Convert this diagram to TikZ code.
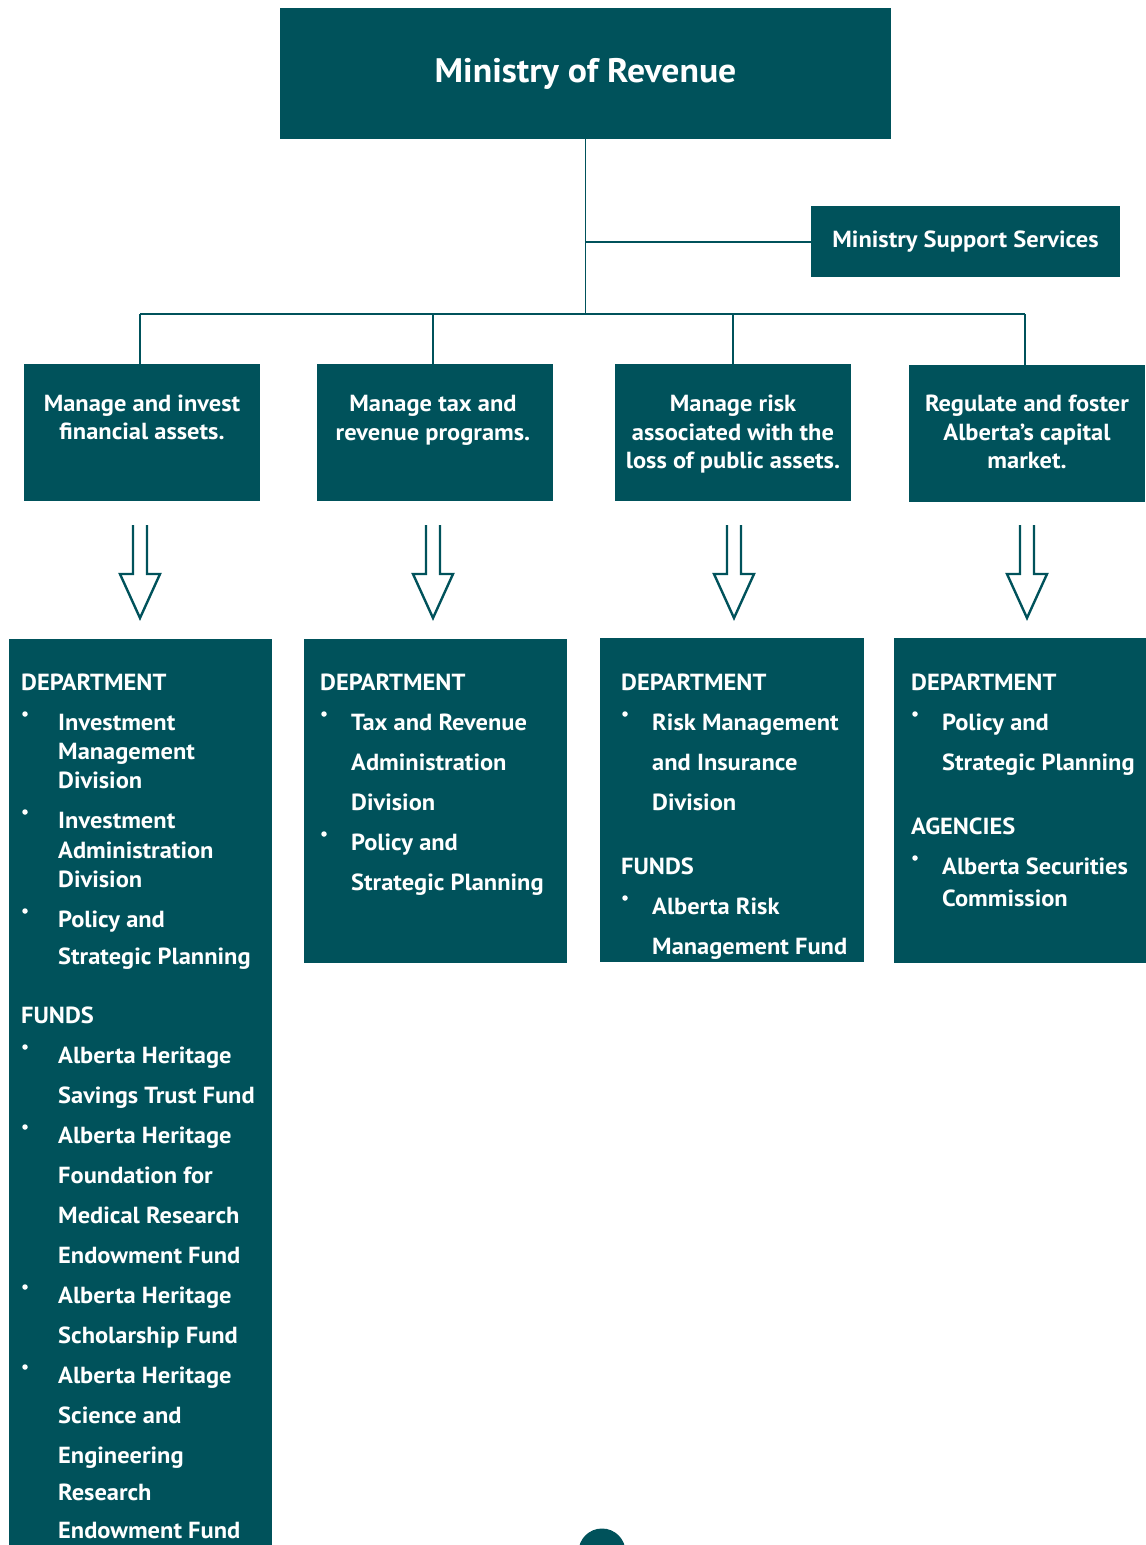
\documentclass[tikz,border=0pt]{standalone}
\usepackage{fontspec}
\setmainfont{PT Sans}[FakeStretch=1.05]
\definecolor{teal}{RGB}{0,82,91}
\begin{document}
\begin{tikzpicture}[x=1pt,y=-1pt,
  box/.style={fill=teal,draw=none,inner sep=0pt,text=white,font=\bfseries\fontsize{23.3}{27}\selectfont},
  conn/.style={draw=teal,line width=1.3pt},
  hollow/.style={draw=teal,line width=2.4pt,line join=miter,fill=none},
  txt/.style={text=white,inner sep=0pt,font=\bfseries\fontsize{23.3}{27}\selectfont},
  ctxt/.style={txt,anchor=base,yshift=-8pt},
  ltxt/.style={txt,anchor=base west,yshift=-8pt},
  dot/.style={fill=white,draw=none,circle,inner sep=0pt,minimum size=5.5pt}]
\useasboundingbox (0,0) rectangle (1146,1545);
% top boxes
\node[box,minimum width=611pt,minimum height=131pt,font=\bfseries\fontsize{34}{40}\selectfont] (title) at (585.5,73.5) {\raisebox{7pt}{Ministry of Revenue}};
\node[box,minimum width=309pt,minimum height=71pt] (support) at (965.5,241.5) {Ministry Support Services};
% second row boxes
\node[box,minimum width=236pt,minimum height=137pt] (b1) at (142,432.5) {};
\node[box,minimum width=236pt,minimum height=137pt] (b2) at (434.5,432.5) {};
\node[box,minimum width=236pt,minimum height=137pt] (b3) at (733,432.5) {};
\node[box,minimum width=236pt,minimum height=137pt] (b4) at (1027,433.5) {};
% connectors
\coordinate (j0) at (title.south |- 0,314);
\coordinate (js) at (title.south |- 0,242);
\coordinate (j1) at (140,314);
\coordinate (j2) at (433,314);
\coordinate (j3) at (733,314);
\coordinate (j4) at (1025,314);
\draw[conn] (title.south) -- (j0);
\draw[conn] (js) -- (support.west |- js);
\draw[conn] (j1) -- (j4);
\draw[conn] (j1) -- (j1 |- b1.north);
\draw[conn] (j2) -- (j2 |- b2.north);
\draw[conn] (j3) -- (j3 |- b3.north);
\draw[conn] (j4) -- (j4 |- b4.north);
% second row text
\node[ctxt] at (142,403) {Manage and invest};
\node[ctxt] at (142,431) {financial assets.};
\node[ctxt] at (433,403) {Manage tax and};
\node[ctxt] at (433,432) {revenue programs.};
\node[ctxt] at (733,403) {Manage risk};
\node[ctxt] at (733,432) {associated with the};
\node[ctxt] at (733,460) {loss of public assets.};
\node[ctxt] at (1027,403) {Regulate and foster};
\node[ctxt] at (1027,432) {Alberta’s capital};
\node[ctxt] at (1027,460) {market.};
% hollow arrows
\foreach \cx in {140,433,734,1027}{
  \draw[hollow] (\cx-7,525) -- (\cx-7,574) -- (\cx-20,574) -- (\cx,618) -- (\cx+20,574) -- (\cx+7,574) -- (\cx+7,525);
}
% bottom boxes
\node[box,minimum width=263pt,minimum height=910pt] (d1) at (140.5,1094) {};
\node[box,minimum width=263pt,minimum height=324pt] (d2) at (435.5,801) {};
\node[box,minimum width=264pt,minimum height=324pt] (d3) at (732,800) {};
\node[box,minimum width=252pt,minimum height=325pt] (d4) at (1020,800.5) {};
% page number circle
\node[fill=teal,circle,minimum size=47pt,inner sep=0pt] (pg) at (602,1552) {};
% box 1
\node[ltxt] at (21,682) {DEPARTMENT};
\foreach \y in {714,812,911,1047,1127,1287,1367}{\node[dot] at (25,\y) {};}
\node[ltxt] at (58,722) {Investment};
\node[ltxt] at (58,751) {Management};
\node[ltxt] at (58,780) {Division};
\node[ltxt] at (58,820) {Investment};
\node[ltxt] at (58,850) {Administration};
\node[ltxt] at (58,879) {Division};
\node[ltxt] at (58,919) {Policy and};
\node[ltxt] at (58,956) {Strategic Planning};
\node[ltxt] at (21,1015) {FUNDS};
\node[ltxt] at (58,1055) {Alberta Heritage};
\node[ltxt] at (58,1095) {Savings Trust Fund};
\node[ltxt] at (58,1135) {Alberta Heritage};
\node[ltxt] at (58,1175) {Foundation for};
\node[ltxt] at (58,1215) {Medical Research};
\node[ltxt] at (58,1255) {Endowment Fund};
\node[ltxt] at (58,1295) {Alberta Heritage};
\node[ltxt] at (58,1335) {Scholarship Fund};
\node[ltxt] at (58,1375) {Alberta Heritage};
\node[ltxt] at (58,1415) {Science and};
\node[ltxt] at (58,1455) {Engineering};
\node[ltxt] at (58,1492) {Research};
\node[ltxt] at (58,1530) {Endowment Fund};
% box 2
\node[ltxt] at (320,682) {DEPARTMENT};
\foreach \y in {714,834}{\node[dot] at (324,\y) {};}
\node[ltxt] at (351,722) {Tax and Revenue};
\node[ltxt] at (351,762) {Administration};
\node[ltxt] at (351,802) {Division};
\node[ltxt] at (351,842) {Policy and};
\node[ltxt] at (351,882) {Strategic Planning};
% box 3
\node[ltxt] at (621,682) {DEPARTMENT};
\foreach \y in {714,898}{\node[dot] at (625,\y) {};}
\node[ltxt] at (652,722) {Risk Management};
\node[ltxt] at (652,762) {and Insurance};
\node[ltxt] at (652,802) {Division};
\node[ltxt] at (621,866) {FUNDS};
\node[ltxt] at (652,906) {Alberta Risk};
\node[ltxt] at (652,946) {Management Fund};
% box 4
\node[ltxt] at (911,682) {DEPARTMENT};
\foreach \y in {714,858}{\node[dot] at (915,\y) {};}
\node[ltxt] at (942,722) {Policy and};
\node[ltxt] at (942,762) {Strategic Planning};
\node[ltxt] at (911,826) {AGENCIES};
\node[ltxt] at (942,866) {Alberta Securities};
\node[ltxt] at (942,898) {Commission};
\end{tikzpicture}
\end{document}
